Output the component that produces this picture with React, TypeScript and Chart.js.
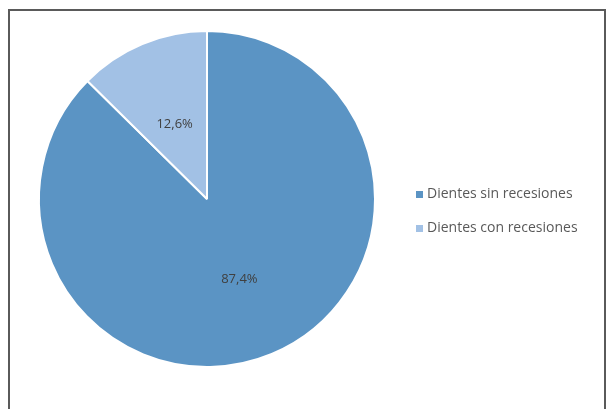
import React, { useEffect, useRef } from "react";
import { Chart, registerables } from "chart.js";

Chart.register(...registerables);

const categories = ["Dientes sin recesiones", "Dientes con recesiones"];
const values = [87.4, 12.6];
const colors = ["#5B94C4", "#A2C1E5"];

const labelsPlugin = {
  id: "customLabels",
  afterDatasetsDraw(chart: any) {
    const ctx = chart.ctx;
    const meta = chart.getDatasetMeta(0);
    ctx.save();
    ctx.font = "13px 'Open Sans'";
    ctx.fillStyle = "#404040";
    ctx.textAlign = "center";
    ctx.textBaseline = "middle";
    meta.data.forEach((arc: any, i: number) => {
      const p = arc.tooltipPosition();
      ctx.fillText(values[i].toFixed(1).replace(".", ",") + "%", p.x, p.y + 2.5);
    });
    // legend
    const lx = 406;
    const ly0 = 183.5;
    const gap = 34;
    ctx.textAlign = "left";
    ctx.font = "14px 'Open Sans'";
    categories.forEach((c, i) => {
      const y = ly0 + i * gap;
      ctx.fillStyle = colors[i];
      ctx.fillRect(lx, y - 3.5, 7, 7);
      ctx.fillStyle = "#595959";
      ctx.fillText(c, lx + 11, y);
    });
    ctx.restore();
  },
};

export default function App() {
  const ref = useRef<HTMLCanvasElement>(null);
  useEffect(() => {
    document.body.style.margin = "0";
    document.body.style.overflow = "hidden";
    const chart = new Chart(ref.current!, {
      type: "pie",
      data: {
        labels: categories,
        datasets: [
          {
            data: values,
            backgroundColor: colors,
            borderColor: "#ffffff",
            borderWidth: 2,
          },
        ],
      },
      options: {
        animation: false,
        responsive: false,
        layout: { padding: { left: 28, top: 19, right: 228, bottom: 41 } },
        plugins: {
          legend: { display: false },
          tooltip: { enabled: false },
        },
      },
      plugins: [labelsPlugin],
    });
    return () => chart.destroy();
  }, []);
  return (
    <div
      style={{
        position: "absolute",
        left: 8,
        top: 9,
        width: 594,
        height: 410,
        border: "2px solid #5a5a5a",
        background: "#fff",
      }}
    >
      <canvas ref={ref} width={594} height={398} style={{ display: "block" }} />
    </div>
  );
}
